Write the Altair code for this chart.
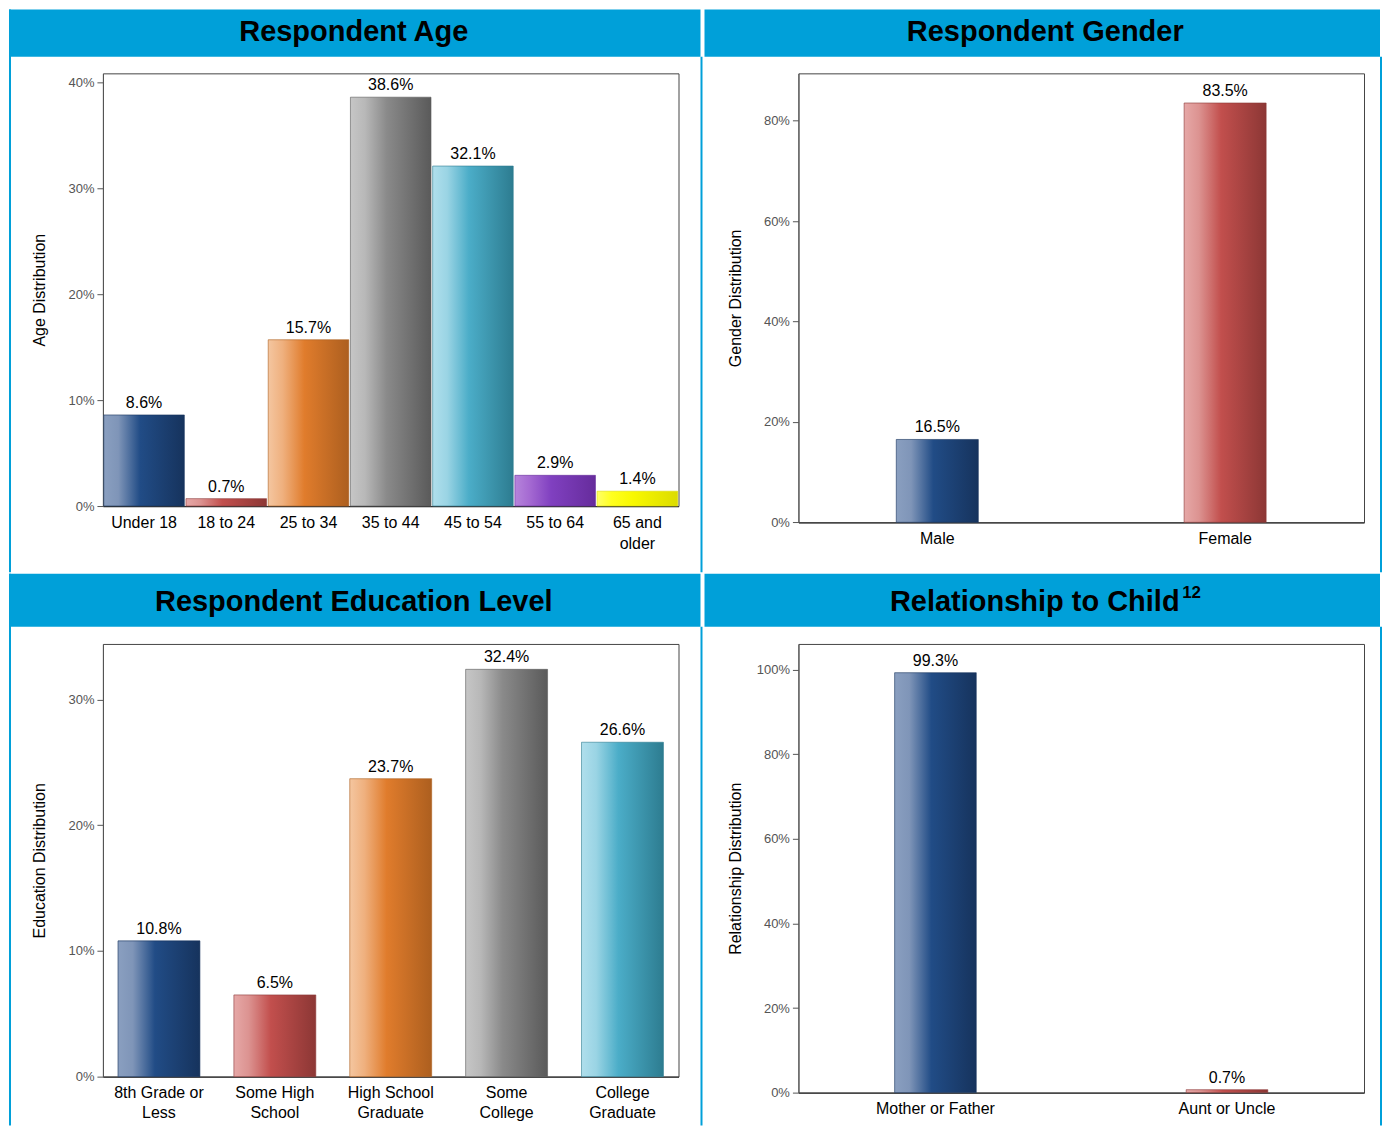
import altair as alt
import pandas as pd

# ---------------- data ----------------
age_cats = ["Under 18", "18 to 24", "25 to 34", "35 to 44", "45 to 54", "55 to 64", "65 and\nolder"]
age_vals = [8.6, 0.7, 15.7, 38.6, 32.1, 2.9, 1.4]
age_cols = ["blue", "red", "orange", "gray", "teal", "purple", "yellow"]

gender_cats = ["Male", "Female"]
gender_vals = [16.5, 83.5]
gender_cols = ["blue", "red"]

edu_cats = ["8th Grade or\nLess", "Some High\nSchool", "High School\nGraduate", "Some\nCollege", "College\nGraduate"]
edu_vals = [10.8, 6.5, 23.7, 32.4, 26.6]
edu_cols = ["blue", "red", "orange", "gray", "teal"]

rel_cats = ["Mother or Father", "Aunt or Uncle"]
rel_vals = [99.3, 0.7]
rel_cols = ["blue", "red"]

FONT = "Liberation Sans"
BLUE = "#00a0d9"

PAL = {
    "blue": ("#8a9fc0", "#7f95b8", "#214c86", "#16335d"),
    "red": ("#e6a8a7", "#dc9391", "#c24f4d", "#8c3735"),
    "orange": ("#f4c6a0", "#efb07e", "#e07c2c", "#ad5f1f"),
    "gray": ("#c6c6c6", "#b8b8b8", "#8a8a8a", "#5a5a5a"),
    "teal": ("#b0dfec", "#9ad4e4", "#4badc8", "#2d7c90"),
    "purple": ("#b684db", "#a56ad2", "#8040c0", "#662c9c"),
    "yellow": ("#ffff66", "#ffff20", "#f8f800", "#dcdc00"),
}


def grad(name):
    a, b, c, d = PAL[name]
    return alt.Gradient(
        gradient="linear", x1=0, x2=1, y1=0, y2=0,
        stops=[alt.GradientStop(color=a, offset=0),
               alt.GradientStop(color=b, offset=0.18),
               alt.GradientStop(color=c, offset=0.45),
               alt.GradientStop(color=d, offset=1)])


def deco_rect(x, x2, y, y2, color=BLUE):
    return alt.Chart(alt.Data(values=[{}])).mark_rect(color=color, opacity=1).encode(
        x=alt.value(x), x2=alt.value(x2), y=alt.value(y), y2=alt.value(y2))


def deco_text(txt, x, y, size=29, align="center"):
    return alt.Chart(alt.Data(values=[{}])).mark_text(
        text=txt, font=FONT, fontSize=size, fontWeight="bold", color="black",
        align=align, baseline="middle").encode(x=alt.value(x), y=alt.value(y))


def panel(cats, vals, cols, w, h, ymax, ticks, ytitle, pin, pout, title,
          left, right, top, hbot, bottom, title_x, title_y, right_border,
          left_border, label_lh=21, sup=None):
    df = pd.DataFrame({"cat": cats, "val": vals,
                       "lab": [f"{v:.1f}%" for v in vals]})
    X = alt.X("cat:N", title=None,
              scale=alt.Scale(domain=cats, paddingInner=pin, paddingOuter=pout),
              axis=alt.Axis(labelAngle=0, ticks=False, labelPadding=8,
                            labelFontSize=16, labelColor="black", labelFont=FONT,
                            labelLineHeight=label_lh, labelLimit=300,
                            domainColor="#333333", domainWidth=1.2,
                            labelExpr="split(datum.label, '\\n')"))
    Y = alt.Y("val:Q", scale=alt.Scale(domain=[0, ymax], nice=False, zero=True),
              axis=alt.Axis(values=ticks, labelExpr="datum.value + '%'",
                            grid=False, tickSize=6, tickColor="#555555",
                            domainColor="#555555", labelFontSize=13,
                            labelColor="#555555", labelFont=FONT, labelPadding=3,
                            title=ytitle, titleFont=FONT, titleFontSize=16,
                            titleFontWeight="normal", titleColor="black",
                            titleAngle=-90, titleX=-63, titleY=h / 2,
                            titleAlign="center", titleBaseline="middle"))
    base = alt.Chart(df).encode(x=X, y=Y)
    layers = [
        deco_rect(left, right_border, top, hbot),           # header band
        deco_rect(right_border, right, hbot, bottom),       # right divider / border
    ]
    if left_border:
        layers.append(deco_rect(left, left + 2, top, bottom))
    layers.append(deco_text(title, title_x, title_y))
    if sup is not None:
        layers.append(deco_text(sup[0], sup[1], sup[2], size=17, align="left"))
    for c, col in zip(cats, cols):
        layers.append(
            base.mark_bar(color=grad(col), stroke=PAL[col][3], strokeWidth=1,
                          strokeOpacity=0.6)
            .transform_filter(alt.FieldEqualPredicate(field="cat", equal=c)))
    layers.append(base.mark_text(font=FONT, fontSize=16, color="black",
                                 baseline="alphabetic", dy=-7)
                  .encode(text="lab:N"))
    return alt.layer(*layers).properties(width=w, height=h)


tl = panel(age_cats, age_vals, age_cols, 576, 433, 40.85, [0, 10, 20, 30, 40],
           "Age Distribution", 0.02, 0.01, "Respondent Age",
           left=-94, right=600, top=-64, hbot=-16.7, bottom=499.3,
           title_x=251, title_y=-41.7, right_border=598, left_border=True)

tr = panel(gender_cats, gender_vals, gender_cols, 566, 449.3, 89.4, [0, 20, 40, 60, 80],
           "Gender Distribution", 0.715, 0.34, "Respondent Gender",
           left=-94, right=584, top=-64, hbot=-16.7, bottom=499.3,
           title_x=247, title_y=-41.7, right_border=582, left_border=False)

bl = panel(edu_cats, edu_vals, edu_cols, 576, 433, 34.42, [0, 10, 20, 30],
           "Education Distribution", 0.293, 0.13, "Respondent Education Level",
           left=-94, right=600, top=-70.3, hbot=-17.3, bottom=482,
           title_x=251, title_y=-42.3, right_border=598, left_border=True,
           label_lh=20)

br = panel(rel_cats, rel_vals, rel_cols, 566, 449, 106.1, [0, 20, 40, 60, 80, 100],
           "Relationship Distribution", 0.72, 0.33, "Relationship to Child",
           left=-94, right=584, top=-70.3, hbot=-17.3, bottom=482,
           title_x=236.5, title_y=-42.3, right_border=582, left_border=False,
           sup=("12", 384, -51.3))

chart = alt.vconcat(
    alt.hconcat(tl, tr, spacing=0),
    alt.hconcat(bl, br, spacing=0),
    spacing=0,
).properties(padding=0, background="white").configure_view(
    stroke="#444444", strokeWidth=1
)

chart.save("out.html", embed_options={"renderer": "svg", "actions": False})
